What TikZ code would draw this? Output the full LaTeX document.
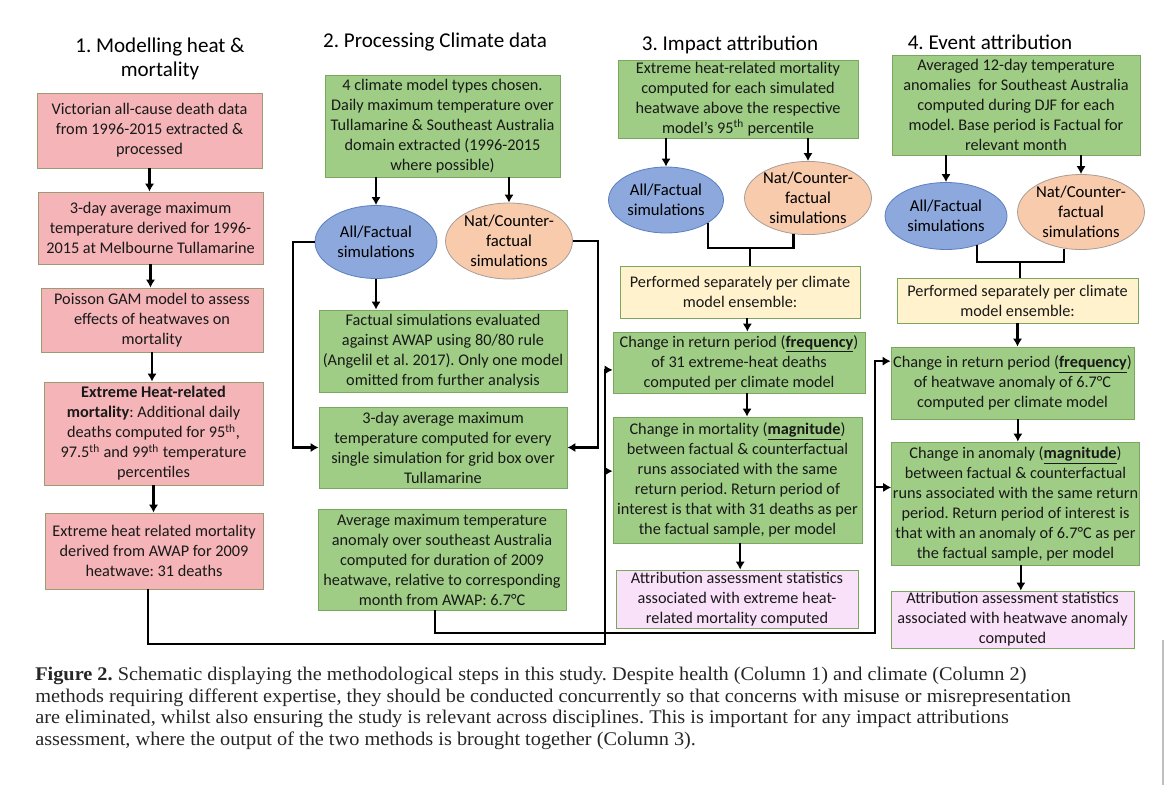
\documentclass[tikz,border=0pt]{standalone}
\usepackage{fontspec}
\setmainfont{Carlito}
\newfontfamily\captionfont[FakeStretch=1.05]{Liberation Serif}
\usetikzlibrary{calc,shapes.geometric,arrows.meta}
\newlength\pxu
\setlength\pxu{0.75pt} % one pixel of the reference
\definecolor{pinkfill}{HTML}{F5B4B7}
\definecolor{pinkedge}{HTML}{9C9C72}
\definecolor{greenfill}{HTML}{9FCD85}
\definecolor{greenedge}{HTML}{7BA65E}
\definecolor{bluefill}{HTML}{8CA8DC}
\definecolor{blueedge}{HTML}{5B7FC0}
\definecolor{orangefill}{HTML}{F8CBAD}
\definecolor{orangeedge}{HTML}{A89C94}
\definecolor{creamfill}{HTML}{FFF2CC}
\definecolor{lilacfill}{HTML}{FAE1FA}
\frenchspacing
\tikzset{%
  >={Latex[length=6pt,width=7pt]}, % option for nice arrows
  wh/.style 2 args={minimum width=#1\pxu,minimum height=#2\pxu},
  stepbox/.style={rectangle,draw=greenedge,line width=0.6pt,align=center,
    inner sep=1pt,font=\fontsize{12.2}{15}\selectfont,text=black!90},
  pinkbox/.style={stepbox,fill=pinkfill,draw=pinkedge},
  greenbox/.style={stepbox,fill=greenfill},
  ensbox/.style={stepbox,fill=creamfill},
  statbox/.style={stepbox,fill=lilacfill},
  allsim/.style={ellipse,draw=blueedge,fill=bluefill,line width=0.6pt,
    align=center,inner sep=0pt,font=\fontsize{12.5}{15}\selectfont},
  natsim/.style={allsim,draw=orangeedge,fill=orangefill},
  coltitle/.style={align=center,font=\fontsize{15.8}{18}\selectfont},
  flow/.style={->,line width=1.6pt},
  link/.style={line width=1.6pt}
}
\begin{document}
\begin{tikzpicture}[x=0.75pt,y=-0.75pt]
\useasboundingbox (0,0) rectangle (1173,785);
\draw[black!25,line width=0.8pt] (1163,640) -- (1163,785); % page frame

% 1. health side
\node[coltitle] (t1) at (160,59) {1. Modelling heat \&\\mortality};
\node[pinkbox,wh={225}{75}] (a1) at (149.5,130.5) {Victorian all-cause death data\\from 1996-2015 extracted \&\\processed};
\node[pinkbox,wh={225}{72}] (a2) at (150.5,228) {3-day average maximum\\temperature derived for 1996-\\2015 at Melbourne Tullamarine};
\node[pinkbox,wh={222}{64}] (a3) at (152,320) {Poisson GAM model to assess\\effects of heatwaves on\\mortality};
\node[pinkbox,wh={219}{103}] (a4) at (153.5,433.5) {\textbf{Extreme Heat-related}\\\textbf{mortality}: Additional daily\\deaths computed for 95\textsuperscript{th},\\97.5\textsuperscript{th} and 99\textsuperscript{th} temperature\\percentiles};
\node[pinkbox,wh={218}{76}] (a5) at (154,551) {Extreme heat related mortality\\derived from AWAP for 2009\\heatwave: 31 deaths};
\foreach \u/\v in {a1/a2,a2/a3,a3/a4,a4/a5}
  \draw[flow] (\u.south) -- (\u.south |- \v.north);

% 2. climate side
\node[coltitle] (t2) at (435,42) {2. Processing Climate data};
\node[greenbox,wh={235}{102}] (b1) at (442.5,126) {4 climate model types chosen.\\Daily maximum temperature over\\Tullamarine \& Southeast Australia\\domain extracted (1996-2015\\where possible)};
\node[allsim,wh={122}{73}] (allF2) at (376,242) {All/Factual\\simulations};
\node[natsim,wh={122}{76}] (natF2) at (509,241) {Nat/Counter-\\factual\\simulations};
\node[greenbox,wh={248}{82}] (b4) at (443,351) {Factual simulations evaluated\\against AWAP using 80/80 rule\\(Angelil et al. 2017). Only one model\\omitted from further analysis};
\node[greenbox,wh={248}{81}] (b5) at (443,447.5) {3-day average maximum\\temperature computed for every\\single simulation for grid box over\\Tullamarine};
\node[greenbox,wh={248}{101}] (b6) at (442,559.5) {Average maximum temperature\\anomaly over southeast Australia\\computed for duration of 2009\\heatwave, relative to corresponding\\month from AWAP: 6.7°C};
\draw[flow] (b1.south -| allF2.north) -- (allF2.north);
\draw[flow] (b1.south -| natF2.north) -- (natF2.north);
\draw[flow] (allF2.south) -- (allF2.south |- b4.north);
\draw[flow] (allF2.west) -- ++(-22,0) |- (b5.west);
\draw[flow] (natF2.east) -- ++(25,0) |- (b5.east);

% 3. impact attribution
\node[coltitle] (t3) at (730,45) {3. Impact attribution};
\node[greenbox,wh={240}{78}] (c1) at (738,99) {Extreme heat-related mortality\\computed for each simulated\\heatwave above the respective\\model's 95\textsuperscript{th} percentile};
\node[allsim,wh={115}{66}] (allF3) at (666,200) {All/Factual\\simulations};
\node[natsim,wh={120}{71}] (natF3) at (808,198) {Nat/Counter-\\factual\\simulations};
\node[ensbox,wh={240}{52}] (ens3) at (740,292) {Performed separately per climate\\model ensemble:};
\node[greenbox,wh={252}{61}] (freq3) at (739,362.5) {Change in return period (\underline{\textbf{frequency}})\\of 31 extreme-heat deaths\\computed per climate model};
\node[greenbox,wh={249}{126}] (mag3) at (737.5,480) {Change in mortality (\underline{\textbf{magnitude}})\\between factual \& counterfactual\\runs associated with the same\\return period. Return period of\\interest is that with 31 deaths as per\\the factual sample, per model};
\node[statbox,wh={242}{58}] (att3) at (737,599) {Attribution assessment statistics\\associated with extreme heat-\\related mortality computed};
\coordinate (j3) at (750,248);
\draw[flow] (c1.south -| allF3.north) -- (allF3.north);
\draw[flow] (c1.south -| natF3.north) -- (natF3.north);
\draw[link] (allF3.-29) |- (j3) -| (natF3.-112);
\draw[link] (j3) -- (j3 |- ens3.north);
\draw[flow] ([xshift=5.5pt]ens3.south) -- ([xshift=5.5pt]ens3.south |- freq3.north);
\draw[flow] ([xshift=6pt]freq3.south) -- ([xshift=6pt]freq3.south |- mag3.north);
\draw[flow] ([xshift=2pt]mag3.south) -- ([xshift=2pt]mag3.south |- att3.north);

% 4. event attribution
\node[coltitle] (t4) at (990,42) {4. Event attribution};
\node[greenbox,wh={248}{100}] (e1) at (1016,105) {Averaged 12-day temperature\\anomalies\ \ for Southeast Australia\\computed during DJF for each\\model. Base period is Factual for\\relevant month};
\node[allsim,wh={122}{67}] (allF4) at (946,216) {All/Factual\\simulations};
\node[natsim,wh={122}{75}] (natF4) at (1081,212) {Nat/Counter-\\factual\\simulations};
\node[ensbox,wh={241}{45}] (ens4) at (1017.5,300.5) {Performed separately per climate\\model ensemble:};
\node[greenbox,wh={243}{72}] (freq4) at (1012.5,383) {Change in return period (\underline{\textbf{frequency}})\\of heatwave anomaly of 6.7°C\\computed per climate model};
\node[greenbox,wh={247}{123}] (mag4) at (1015.5,503.5) {Change in anomaly (\underline{\textbf{magnitude}})\\between factual \& counterfactual\\runs associated with the same return\\period. Return period of interest is\\that with an anomaly of 6.7°C as per\\the factual sample, per model};
\node[statbox,wh={243}{57}] (att4) at (1012.5,619.5) {Attribution assessment statistics\\associated with heatwave anomaly\\computed};
\coordinate (j4) at (1020,262);
\draw[flow] (e1.south -| allF4.north) -- (allF4.north);
\draw[flow] (e1.south -| natF4.north) -- (natF4.north);
\draw[link] (allF4.-43) |- (j4) -| (natF4.-115);
\draw[link] (j4) -- (j4 |- ens4.north);
\draw[flow] (ens4.south) -- (ens4.south |- freq4.north);
\draw[flow] ([xshift=4pt]freq4.south) -- ([xshift=4pt]freq4.south |- mag4.north);
\draw[flow] ([xshift=4pt]mag4.south) -- ([xshift=4pt]mag4.south |- att4.north);

% outputs of columns 1 and 2 feed columns 3 and 4
\coordinate (in3f) at ($(freq3.north west)!0.62!(freq3.south west)$);
\coordinate (in3m) at ($(mag3.north west)!0.43!(mag3.south west)$);
\coordinate (in4f) at ($(freq4.north west)!0.2!(freq4.south west)$);
\coordinate (in4m) at ($(mag4.north west)!0.37!(mag4.south west)$);
\coordinate (bus3) at (605,644);
\coordinate (bus4) at (875,633);
\draw[flow] ([xshift=-4.5pt]a5.south) |- (bus3) |- (in3f);
\draw[flow] (bus3 |- in3m) -- (in3m);
\draw[flow] ([xshift=-5pt]b6.south) |- (bus4) |- (in4f);
\draw[flow] (bus4 |- in4m) -- (in4m);

% caption
\node[anchor=north west,inner sep=0pt,align=left,text=black!85,
  font=\captionfont\fontsize{14.5}{16.1}\selectfont] (cap) at (35,667)
  {\textbf{Figure 2.} Schematic displaying the methodological steps in this study. Despite health (Column 1) and climate (Column 2)\\
   methods requiring different expertise, they should be conducted concurrently so that concerns with misuse or misrepresentation\\
   are eliminated, whilst also ensuring the study is relevant across disciplines. This is important for any impact attributions\\
   assessment, where the output of the two methods is brought together (Column 3).};
\end{tikzpicture}
\end{document}
